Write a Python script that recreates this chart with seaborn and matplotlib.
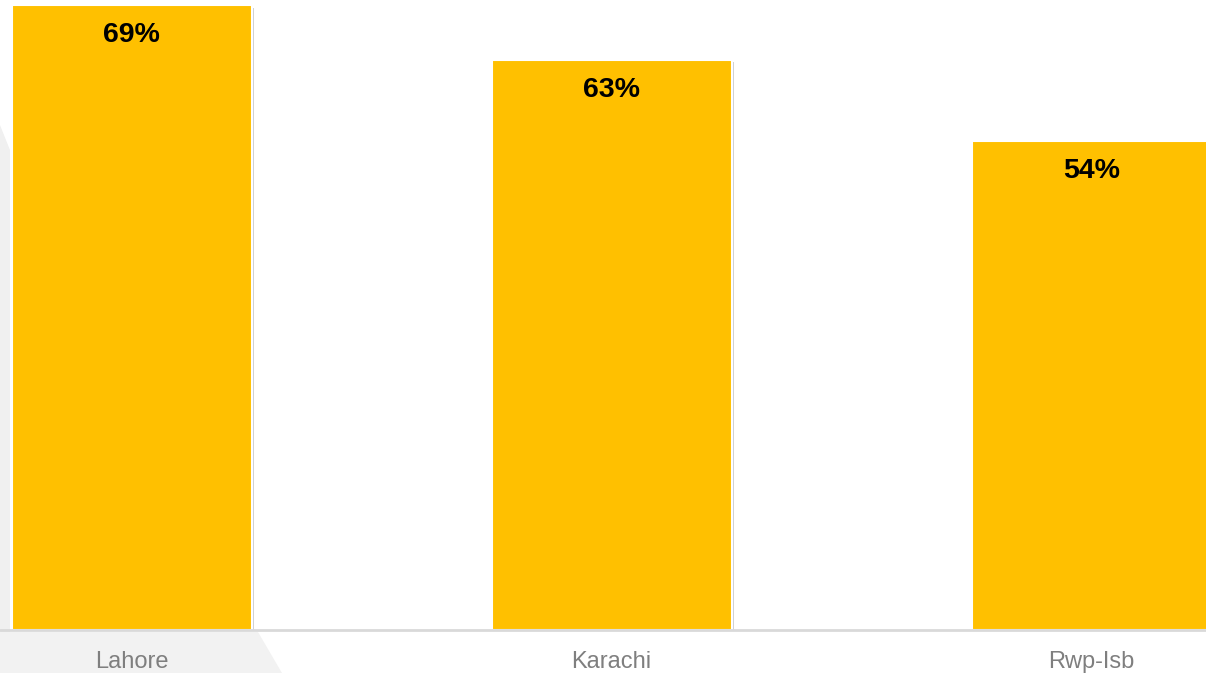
import matplotlib
matplotlib.use("Agg")
import matplotlib.pyplot as plt
import matplotlib.patheffects as pe
from matplotlib.patches import Polygon
import seaborn as sns
import pandas as pd

cities = ["Lahore", "Karachi", "Rwp-Isb"]
values = [69, 63, 54]
labels = ["69%", "63%", "54%"]

sns.set_theme(style="white")
plt.rcParams['font.family'] = ['Liberation Sans', 'DejaVu Sans']

W, H = 1206, 673
fig = plt.figure(figsize=(W / 100, H / 100), dpi=100)
fig.patch.set_facecolor("white")

def fx(px):
    return px / W

def fy(py):
    return 1 - py / H

# light gray background shapes (bottom-left band and left strip)
bottom_band = Polygon([(fx(0), fy(632)), (fx(258), fy(632)), (fx(282), fy(673)), (fx(0), fy(673))],
                      closed=True, transform=fig.transFigure, facecolor="#F2F2F2", edgecolor="none", zorder=0)
left_strip = Polygon([(fx(0), fy(125)), (fx(10), fy(150)), (fx(10), fy(632)), (fx(0), fy(632))],
                     closed=True, transform=fig.transFigure, facecolor="#F0F0F0", edgecolor="none", zorder=0)
fig.add_artist(bottom_band)
fig.add_artist(left_strip)

ax = fig.add_axes([0, 43 / H, 1, 630 / H])
ax.patch.set_alpha(0)

df = pd.DataFrame({"city": cities, "value": values})
sns.barplot(data=df, x="city", y="value", color="#FFC000", saturation=1, width=0.5,
            edgecolor="white", linewidth=1.5, ax=ax, zorder=2)

for p in ax.patches:
    p.set_path_effects([pe.SimplePatchShadow(offset=(1.5, -1.5), shadow_rgbFace="#888888", alpha=0.4),
                        pe.Normal()])

ax.set_xlim(-0.274, 2.238)
ax.set_ylim(0, 69.6)

for i, (v, t) in enumerate(zip(values, labels)):
    ax.annotate(t, xy=(i, v), xytext=(0, -21.5), textcoords="offset points",
                ha="center", va="center", fontsize=20.5, fontweight="bold", color="black", zorder=5)

ax.axhline(0, color="#D9D9D9", linewidth=2, clip_on=False, zorder=3)

for s in ax.spines.values():
    s.set_visible(False)
ax.set_yticks([])
ax.set_ylabel("")
ax.set_xlabel("")
ax.tick_params(axis="x", length=0, pad=15, labelsize=17, labelcolor="#7F7F7F")

fig.savefig("out.png", dpi=100)
